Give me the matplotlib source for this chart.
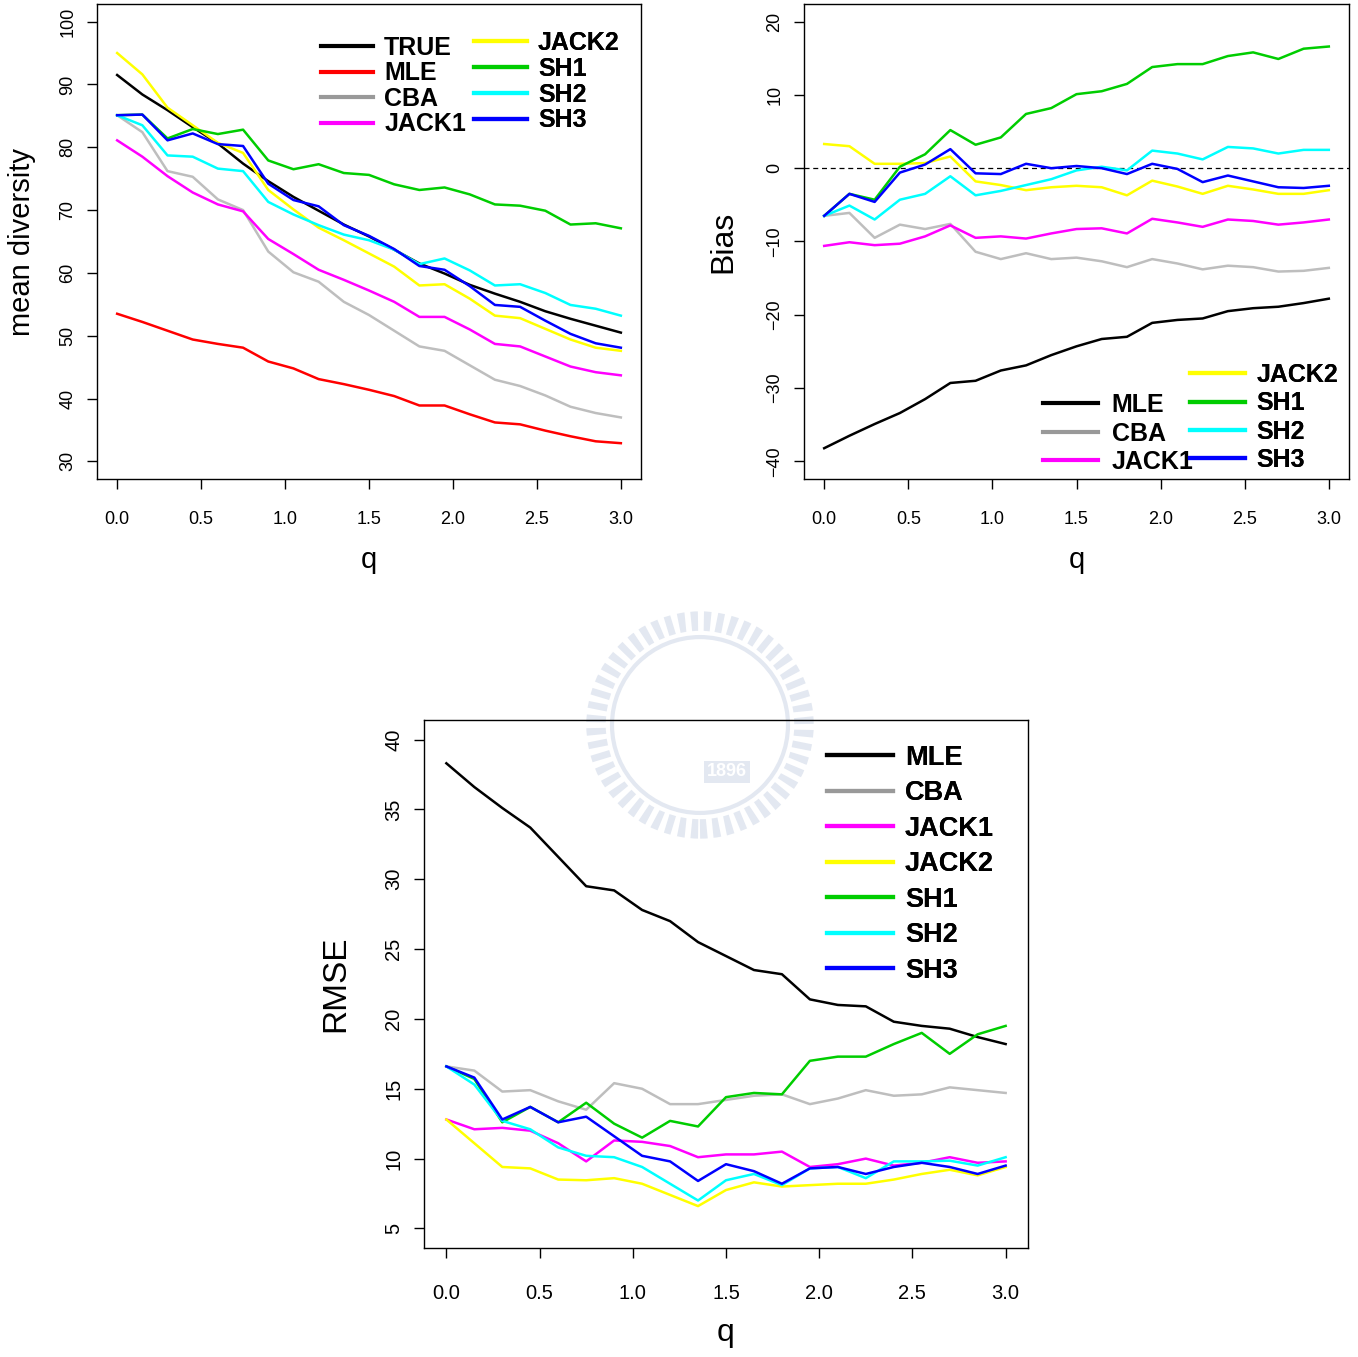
import numpy as np
import matplotlib.pyplot as plt
from matplotlib.lines import Line2D
from matplotlib.patches import Circle

plt.rcParams["font.family"] = ["Liberation Sans", "DejaVu Sans"]

q = [0.0, 0.15, 0.3, 0.45, 0.6, 0.75, 0.9, 1.05, 1.2, 1.35, 1.5,
     1.65, 1.8, 1.95, 2.1, 2.25, 2.4, 2.55, 2.7, 2.85, 3.0]

# mean diversity
md_true = [91.5, 88.4, 85.9, 83.2, 80.6, 77.4, 74.6, 72.1, 69.9, 67.7, 65.8,
           63.7, 61.5, 59.9, 58.1, 56.7, 55.4, 53.9, 52.7, 51.6, 50.5]
md_mle = [53.5, 52.2, 50.8, 49.4, 48.7, 48.1, 45.9, 44.8, 43.1, 42.3, 41.4,
          40.4, 38.9, 38.9, 37.5, 36.2, 35.9, 34.9, 34.0, 33.2, 32.9]
md_cba = [85.1, 82.4, 76.2, 75.3, 71.7, 70.0, 63.4, 60.1, 58.6, 55.4, 53.3,
          50.8, 48.3, 47.6, 45.3, 43.0, 42.0, 40.5, 38.7, 37.7, 37.0]
md_jack1 = [81.1, 78.5, 75.4, 72.8, 70.9, 69.8, 65.4, 63.0, 60.5, 58.9, 57.2,
            55.4, 53.0, 53.0, 51.0, 48.7, 48.3, 46.7, 45.1, 44.2, 43.7]
md_jack2 = [95.0, 91.6, 86.3, 83.5, 80.7, 79.1, 73.2, 70.1, 67.2, 65.2, 63.1,
            61.0, 58.0, 58.2, 55.9, 53.2, 52.8, 51.1, 49.4, 48.1, 47.6]
md_sh1 = [85.1, 85.2, 81.4, 82.9, 82.1, 82.8, 77.9, 76.5, 77.3, 75.9, 75.6,
          74.1, 73.2, 73.6, 72.5, 70.9, 70.7, 69.9, 67.7, 67.9, 67.1]
md_sh2 = [85.1, 83.5, 78.7, 78.5, 76.6, 76.2, 71.3, 69.3, 67.6, 66.1, 65.2,
          63.7, 61.4, 62.3, 60.4, 58.0, 58.2, 56.8, 54.9, 54.3, 53.2]
md_sh3 = [85.1, 85.2, 81.1, 82.2, 80.5, 80.2, 74.2, 71.6, 70.6, 67.6, 65.9,
          63.8, 61.1, 60.5, 57.9, 54.9, 54.6, 52.4, 50.3, 48.8, 48.1]

# bias
bias_mle = [-38.2, -36.5, -34.9, -33.4, -31.5, -29.3, -29.0, -27.6, -26.9, -25.5, -24.3,
            -23.3, -23.0, -21.1, -20.7, -20.5, -19.5, -19.1, -18.9, -18.4, -17.8]
bias_cba = [-6.5, -6.1, -9.5, -7.7, -8.3, -7.6, -11.4, -12.4, -11.6, -12.4, -12.2,
            -12.7, -13.5, -12.4, -13.0, -13.8, -13.3, -13.5, -14.1, -14.0, -13.6]
bias_jack1 = [-10.6, -10.1, -10.5, -10.3, -9.3, -7.8, -9.5, -9.3, -9.6, -8.9, -8.3,
              -8.2, -8.9, -6.9, -7.4, -8.0, -7.0, -7.2, -7.7, -7.4, -7.0]
bias_jack2 = [3.3, 3.0, 0.6, 0.6, 0.7, 1.6, -1.8, -2.3, -3.0, -2.6, -2.4,
              -2.6, -3.7, -1.7, -2.5, -3.5, -2.4, -2.9, -3.5, -3.5, -3.0]
bias_sh1 = [-6.5, -3.5, -4.3, 0.2, 1.9, 5.2, 3.2, 4.2, 7.4, 8.2, 10.1,
            10.5, 11.5, 13.8, 14.2, 14.2, 15.3, 15.8, 14.9, 16.3, 16.6]
bias_sh2 = [-6.5, -5.1, -7.0, -4.3, -3.5, -1.1, -3.7, -3.1, -2.3, -1.5, -0.3,
            0.2, -0.3, 2.4, 2.0, 1.2, 2.9, 2.7, 2.0, 2.5, 2.5]
bias_sh3 = [-6.5, -3.5, -4.6, -0.6, 0.5, 2.6, -0.7, -0.8, 0.6, 0.0, 0.3,
            0.0, -0.8, 0.6, -0.1, -1.9, -1.0, -1.8, -2.6, -2.7, -2.4]

# RMSE
rmse_mle = [38.3, 36.6, 35.1, 33.7, 31.6, 29.5, 29.2, 27.8, 27.0, 25.5, 24.5,
            23.5, 23.2, 21.4, 21.0, 20.9, 19.8, 19.5, 19.3, 18.7, 18.2]
rmse_cba = [16.6, 16.3, 14.8, 14.9, 14.1, 13.5, 15.4, 15.0, 13.9, 13.9, 14.2,
            14.5, 14.6, 13.9, 14.3, 14.9, 14.5, 14.6, 15.1, 14.9, 14.7]
rmse_jack1 = [12.8, 12.1, 12.2, 12.0, 11.1, 9.8, 11.3, 11.2, 10.9, 10.1, 10.3,
              10.3, 10.5, 9.4, 9.6, 10.0, 9.5, 9.7, 10.1, 9.7, 9.8]
rmse_jack2 = [12.8, 11.1, 9.4, 9.3, 8.5, 8.45, 8.6, 8.2, 7.4, 6.6, 7.75,
              8.3, 8.0, 8.1, 8.2, 8.2, 8.5, 8.9, 9.2, 8.8, 9.4]
rmse_sh1 = [16.6, 15.7, 12.6, 13.7, 12.6, 14.0, 12.5, 11.5, 12.7, 12.3, 14.4,
            14.7, 14.6, 17.0, 17.3, 17.3, 18.2, 19.0, 17.5, 18.9, 19.5]
rmse_sh2 = [16.6, 15.3, 12.7, 12.1, 10.8, 10.2, 10.1, 9.4, 8.2, 7.0, 8.45,
            8.9, 8.1, 9.3, 9.4, 8.6, 9.8, 9.8, 9.85, 9.5, 10.1]
rmse_sh3 = [16.6, 15.8, 12.8, 13.7, 12.6, 13.0, 11.6, 10.2, 9.8, 8.4, 9.6,
            9.1, 8.2, 9.3, 9.4, 8.9, 9.4, 9.7, 9.4, 8.9, 9.5]

COLORS = {
    "TRUE": "black", "MLE": "black", "CBA": "#bebebe", "JACK1": "#ff00ff",
    "JACK2": "#ffff00", "SH1": "#00cd00", "SH2": "#00ffff", "SH3": "#0000ff",
}
COLORS_P1 = dict(COLORS, MLE="#ff0000")

W, H = 1358, 1357
fig = plt.figure(figsize=(W / 100, H / 100), dpi=100)


def px_axes(l, t, r, b):
    return fig.add_axes([l / W, 1 - b / H, (r - l) / W, (b - t) / H])


def style(ax, ylim, yticks, ylabel, ylab_size, ylab_pad, tick_size, xlab_size, xlab_pad, xpad):
    ax.set_xlim(-0.12, 3.12)
    lo, hi = ylim
    ext = (hi - lo) * 0.04
    ax.set_ylim(lo - ext, hi + ext)
    ax.set_xticks([0, 0.5, 1.0, 1.5, 2.0, 2.5, 3.0])
    ax.set_xticklabels(["0.0", "0.5", "1.0", "1.5", "2.0", "2.5", "3.0"])
    ax.set_yticks(yticks)
    ax.tick_params(direction="out", length=7, width=1, labelsize=tick_size)
    ax.tick_params(axis="x", pad=xpad)
    ax.tick_params(axis="y", labelrotation=90, pad=8)
    for lbl in ax.get_yticklabels():
        lbl.set_va("center")
    for s in ax.spines.values():
        s.set_linewidth(1)
    ax.set_xlabel("q", fontsize=xlab_size, labelpad=xlab_pad)
    ax.set_ylabel(ylabel, fontsize=ylab_size, labelpad=ylab_pad)


def legend(ax, names, colors, anchor, spacing, size, hlen, hpad):
    handles = [Line2D([], [], color=("#999999" if n == "CBA" else colors[n]), lw=3.0)
               for n in names]
    lg = ax.legend(handles, names, loc="upper left", bbox_to_anchor=anchor,
                   frameon=False, handlelength=hlen, handletextpad=hpad,
                   labelspacing=spacing, borderaxespad=0, borderpad=0,
                   prop={"weight": "bold", "size": size})
    ax.add_artist(lg)


# watermark
fig.add_artist(Circle((700 / W, 1 - 725 / H), 104 / W, transform=fig.transFigure,
                      fill=False, ec="#e3e8f1", lw=14, ls=(0, (0.35, 0.3)), zorder=0))
fig.add_artist(Circle((700 / W, 1 - 725 / H), 88 / W, transform=fig.transFigure,
                      fill=False, ec="#e3e8f1", lw=3, zorder=0))
fig.text(727 / W, 1 - 772 / H, "1896", color="white", fontsize=13,
         weight="bold", ha="center", va="center", zorder=0,
         bbox=dict(boxstyle="square,pad=0.15", fc="#e3e8f1", ec="none"))

# panel 1: mean diversity
ax1 = px_axes(97, 4, 641, 479)
ax1.patch.set_alpha(0)
for name, vals in [("TRUE", md_true), ("MLE", md_mle), ("CBA", md_cba),
                   ("JACK1", md_jack1), ("JACK2", md_jack2), ("SH1", md_sh1),
                   ("SH2", md_sh2), ("SH3", md_sh3)]:
    ax1.plot(q, vals, color=COLORS_P1[name], lw=1.8)
style(ax1, (30, 100), [30, 40, 50, 60, 70, 80, 90, 100], "mean diversity", 21, 17,
      13, 21, 13, 16)
legend(ax1, ["TRUE", "MLE", "CBA", "JACK1"], COLORS_P1, (0.412, 0.933), 0.06, 18, 2.08, 0.44)
legend(ax1, ["JACK2", "SH1", "SH2", "SH3"], COLORS_P1, (0.693, 0.943), 0.07, 18, 2.12, 0.44)

# panel 2: bias
ax2 = px_axes(804, 4, 1349, 479)
ax2.patch.set_alpha(0)
ax2.axhline(0, color="black", lw=0.9, ls=(0, (4, 3)))
for name, vals in [("MLE", bias_mle), ("CBA", bias_cba), ("JACK1", bias_jack1),
                   ("JACK2", bias_jack2), ("SH1", bias_sh1), ("SH2", bias_sh2),
                   ("SH3", bias_sh3)]:
    ax2.plot(q, vals, color=COLORS[name], lw=1.8)
style(ax2, (-40, 20), [-40, -30, -20, -10, 0, 10, 20], "Bias", 23, 20,
      13, 21, 13, 16)
legend(ax2, ["MLE", "CBA", "JACK1"], COLORS, (0.4385, 0.181), 0.18, 18, 2.2, 0.55)
legend(ax2, ["JACK2", "SH1", "SH2", "SH3"], COLORS, (0.708, 0.244), 0.17, 18, 2.2, 0.45)

# panel 3: RMSE
ax3 = px_axes(424, 720, 1028, 1248)
ax3.patch.set_alpha(0)
for name, vals in [("MLE", rmse_mle), ("CBA", rmse_cba), ("JACK1", rmse_jack1),
                   ("JACK2", rmse_jack2), ("SH1", rmse_sh1), ("SH2", rmse_sh2),
                   ("SH3", rmse_sh3)]:
    ax3.plot(q, vals, color=COLORS[name], lw=1.8)
style(ax3, (5, 40), [5, 10, 15, 20, 25, 30, 35, 40], "RMSE", 24, 24,
      14.5, 23, 11, 19)
legend(ax3, ["MLE", "CBA", "JACK1", "JACK2", "SH1", "SH2", "SH3"], COLORS,
       (0.667, 0.953), 0.35, 19.5, 2.44, 0.44)

fig.savefig("out.png", dpi=100)
